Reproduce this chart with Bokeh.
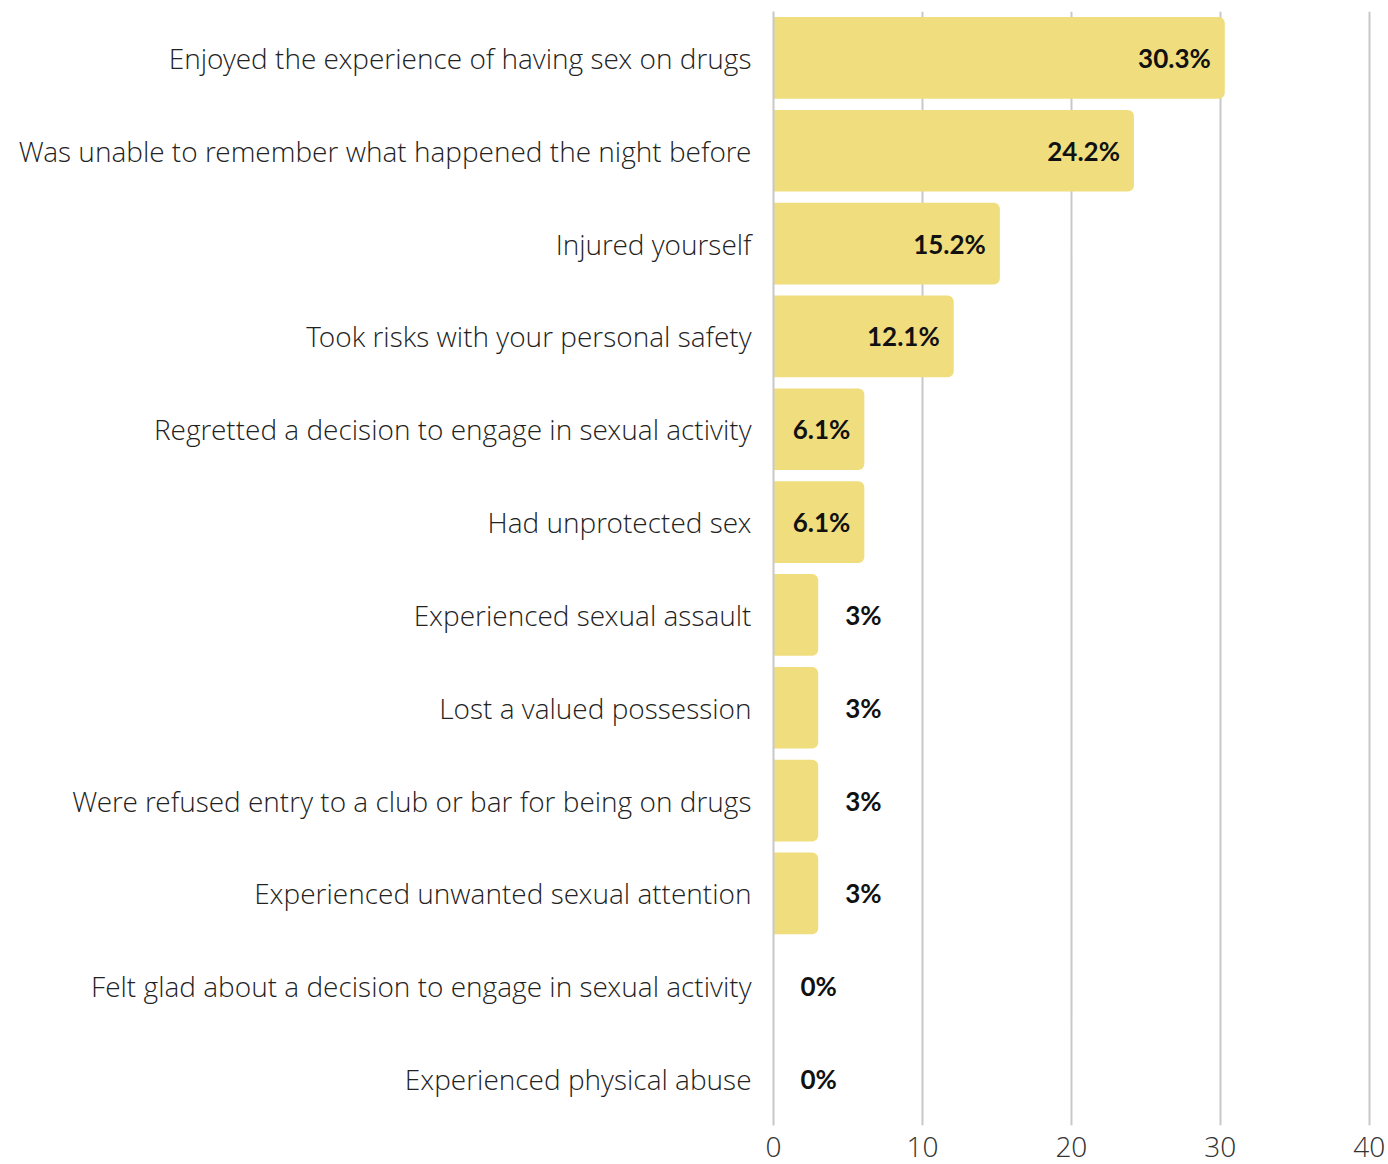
from bokeh.plotting import figure
from bokeh.models import ColumnDataSource, Range1d, FactorRange, FixedTicker
from bokeh.core.properties import value
from bokeh.embed import file_html
from bokeh.resources import INLINE

categories = [
    "Enjoyed the experience of having sex on drugs",
    "Was unable to remember what happened the night before",
    "Injured yourself",
    "Took risks with your personal safety",
    "Regretted a decision to engage in sexual activity",
    "Had unprotected sex",
    "Experienced sexual assault",
    "Lost a valued possession",
    "Were refused entry to a club or bar for being on drugs",
    "Experienced unwanted sexual attention",
    "Felt glad about a decision to engage in sexual activity",
    "Experienced physical abuse",
]
values = [30.3, 24.2, 15.2, 12.1, 6.1, 6.1, 3, 3, 3, 3, 0, 0]
x_ticks = [0, 10, 20, 30, 40]

labels = [f"{v:g}%" for v in values]
inside = [v >= 5 for v in values]
src = ColumnDataSource(dict(
    cat=categories, val=values, lab=labels,
    off=[-14 if i else 27 for i in inside],
    align=["right" if i else "left" for i in inside],
))

p = figure(width=1388, height=1164, output_backend="svg", toolbar_location=None,
           y_range=FactorRange(*reversed(categories)), x_range=Range1d(0, 40.15),
           min_border_left=773, min_border_right=17, min_border_top=11, min_border_bottom=39)
p.outline_line_color = None

p.hbar(y="cat", right="val", left=0, height=0.88, source=src,
       fill_color="#F0DE7E", line_color=None, border_radius=[0, 6, 6, 0])

p.text(x="val", y="cat", text="lab", source=src, x_offset="off", text_align="align",
       text_baseline="middle", text_font=value("Lato"), text_font_style="bold",
       text_font_size="26px", text_color="#111111")

p.xgrid.ticker = FixedTicker(ticks=x_ticks)
p.xgrid.grid_line_color = "#C8C8C8"
p.xgrid.grid_line_width = 2
p.ygrid.grid_line_color = None

p.xaxis.ticker = FixedTicker(ticks=x_ticks)
p.xaxis.axis_line_color = None
p.xaxis.major_tick_line_color = None
p.xaxis.minor_tick_line_color = None
p.xaxis.major_label_text_font = "Open Sans Light"
p.xaxis.major_label_text_font_size = "28px"
p.xaxis.major_label_text_color = "#333333"
p.xaxis.major_label_standoff = 5

p.yaxis.axis_line_color = "#C8C8C8"
p.yaxis.axis_line_width = 2
p.yaxis.major_tick_line_color = None
p.yaxis.minor_tick_line_color = None
p.yaxis.major_label_text_font = "Open Sans Light"
p.yaxis.major_label_text_font_size = "28px"
p.yaxis.major_label_text_color = "#222222"
p.yaxis.major_label_standoff = 16

open("out.html", "w").write(file_html(p, INLINE))
